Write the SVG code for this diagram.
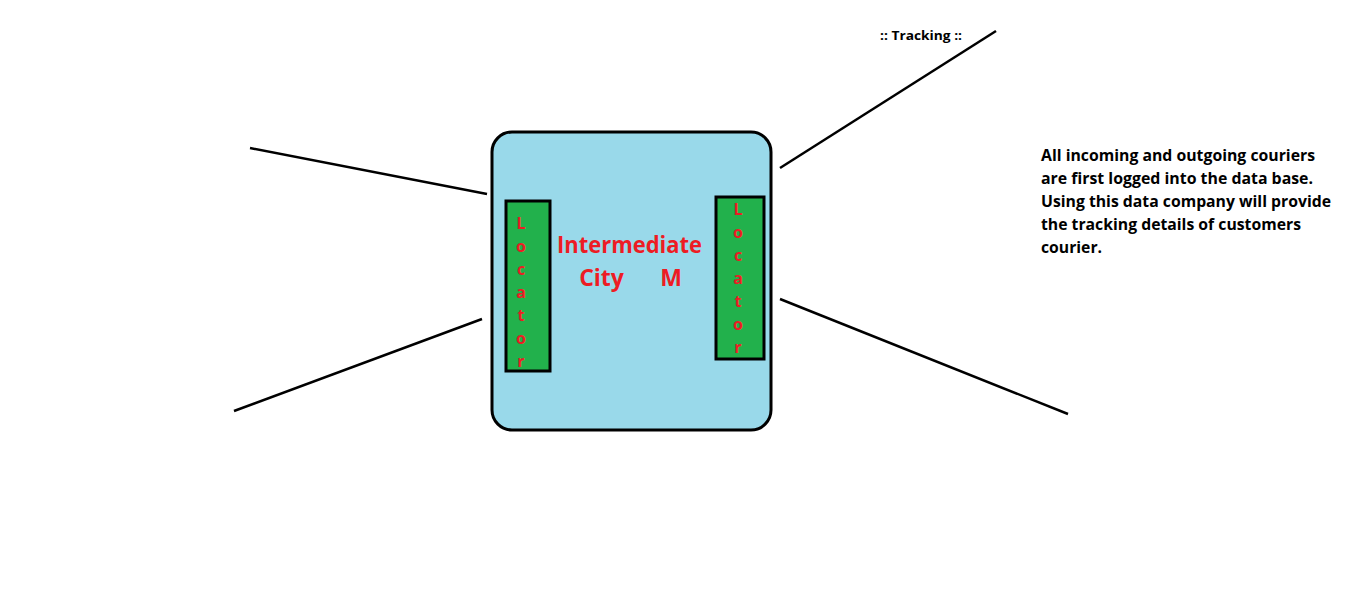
<svg xmlns="http://www.w3.org/2000/svg" width="1360" height="613" viewBox="0 0 1360 613">
<style>
.ln{stroke:#000;stroke-width:2.5;fill:none}
.loc{fill:#22b14c;stroke:#000;stroke-width:3}
.rt{fill:#ed1c24;font-family:"Open Sans","Liberation Sans",sans-serif;font-weight:bold;text-anchor:middle}
.bt{fill:#000;font-family:"Open Sans","Liberation Sans",sans-serif;font-weight:bold}
</style>
<rect width="1360" height="613" fill="#fff"/>
<g id="connectors">
<line class="ln" x1="250" y1="148" x2="487" y2="194"/>
<line class="ln" x1="234" y1="411" x2="482" y2="319"/>
<line class="ln" x1="780" y1="168" x2="996" y2="31"/>
<line class="ln" x1="780" y1="299" x2="1068" y2="414"/>
</g>
<g id="city">
<rect x="492" y="132" width="279" height="298" rx="20" fill="#99d9ea" stroke="#000" stroke-width="3"/>
<text class="rt" x="629.5" y="253" font-size="23" textLength="145" lengthAdjust="spacingAndGlyphs">Intermediate</text>
<text class="rt" x="601.5" y="286" font-size="23">City</text>
<text class="rt" x="671" y="286" font-size="23">M</text>
</g>
<g id="locator-left">
<rect class="loc" x="506" y="201" width="44" height="170"/>
<text class="rt" font-size="16"><tspan x="521" y="229">L</tspan><tspan x="521" y="252">o</tspan><tspan x="521" y="275">c</tspan><tspan x="521" y="298">a</tspan><tspan x="521" y="321">t</tspan><tspan x="521" y="344">o</tspan><tspan x="521" y="367">r</tspan></text>
</g>
<g id="locator-right">
<rect class="loc" x="716" y="197" width="48" height="162"/>
<text class="rt" font-size="16"><tspan x="738" y="215">L</tspan><tspan x="738" y="238">o</tspan><tspan x="738" y="261">c</tspan><tspan x="738" y="284">a</tspan><tspan x="738" y="307">t</tspan><tspan x="738" y="330">o</tspan><tspan x="738" y="353">r</tspan></text>
</g>
<g id="tracking">
<text class="bt" x="880" y="40" font-size="13" textLength="82" lengthAdjust="spacingAndGlyphs">:: Tracking ::</text>
</g>
<g id="note">
<text class="bt" font-size="15.5">
<tspan x="1041" y="161" textLength="274" lengthAdjust="spacingAndGlyphs">All incoming and outgoing couriers</tspan>
<tspan x="1041" y="184" textLength="272" lengthAdjust="spacingAndGlyphs">are first logged into the data base.</tspan>
<tspan x="1041" y="207" textLength="290" lengthAdjust="spacingAndGlyphs">Using this data company will provide</tspan>
<tspan x="1041" y="230" textLength="260" lengthAdjust="spacingAndGlyphs">the tracking details of customers</tspan>
<tspan x="1041" y="253" textLength="61" lengthAdjust="spacingAndGlyphs">courier.</tspan>
</text>
</g>
</svg>
